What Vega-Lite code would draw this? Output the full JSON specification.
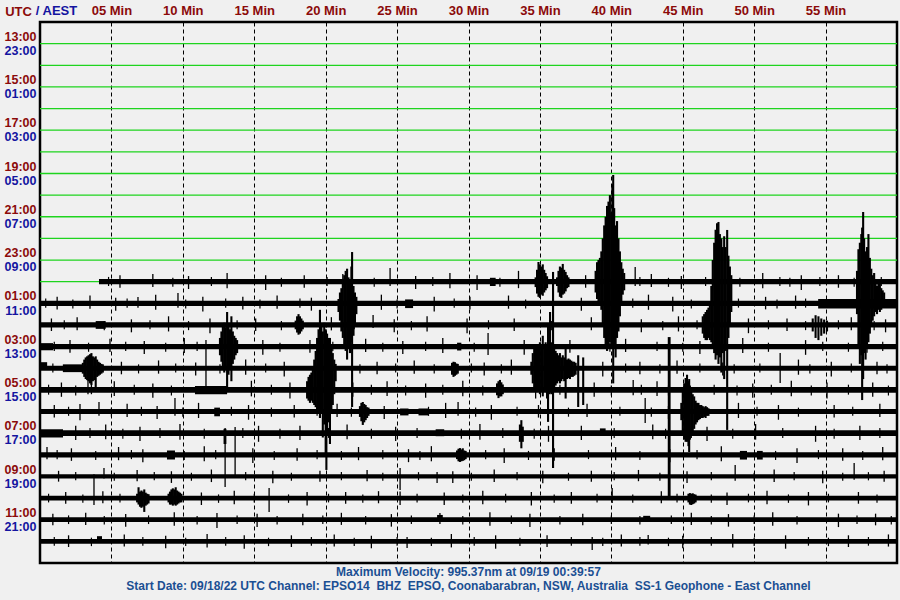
{
"$schema":"https://vega.github.io/schema/vega-lite/v6.json",
"width":857,"height":541,
"autosize":{"type":"none"},
"padding":{"left":40,"top":22,"right":3,"bottom":37},
"background":"#f0f0f0",
"config":{"view":{"stroke":"#000000","strokeWidth":2.5,"fill":"#f0f0f0"},"font":"Liberation Sans"},
"title":{"text":["Maximum Velocity: 995.37nm at 09/19 00:39:57","Start Date: 09/18/22 UTC Channel: EPSO14\u00a0 BHZ\u00a0 EPSO, Coonabarabran, NSW, Australia\u00a0 SS-1 Geophone - East Channel"],"orient":"bottom","anchor":"middle","fontSize":12,"fontWeight":"bold","color":"#1b4f93","offset":4,"lineHeight":14},
"datasets":{
"gr":[{"t":0,"t2":60,"a":1},{"t":0,"t2":60,"a":2},{"t":0,"t2":60,"a":3},{"t":0,"t2":60,"a":4},{"t":0,"t2":60,"a":5},{"t":0,"t2":60,"a":6},{"t":0,"t2":60,"a":7},{"t":0,"t2":60,"a":8},{"t":0,"t2":60,"a":9},{"t":0,"t2":60,"a":10},{"t":0,"t2":60,"a":11},{"t":0,"t2":4.13,"a":12}],
"bd":[{"t":4.13,"t2":60,"a":11.88,"b":12.12},{"t":0,"t2":60,"a":12.88,"b":13.12},{"t":0,"t2":60,"a":13.88,"b":14.12},{"t":0,"t2":60,"a":14.88,"b":15.12},{"t":0,"t2":60,"a":15.88,"b":16.12},{"t":0,"t2":60,"a":16.87,"b":17.13},{"t":0,"t2":60,"a":17.88,"b":18.12},{"t":0,"t2":60,"a":18.87,"b":19.13},{"t":0,"t2":60,"a":19.88,"b":20.12},{"t":0,"t2":60,"a":20.9,"b":21.1},{"t":0,"t2":60,"a":21.89,"b":22.11},{"t":0,"t2":60,"a":22.89,"b":23.11},{"t":0,"t2":60,"a":23.89,"b":24.11}],
"bl":[
{"t":54.48,"t2":60,"a":12.8,"b":13.24},{"t":31.5,"t2":31.9,"a":11.82,"b":12.2},
{"t":25.56,"t2":26.12,"a":12.82,"b":13.22},
{"t":3.9,"t2":4.6,"a":13.82,"b":14.18},
{"t":0,"t2":0.91,"a":14.84,"b":15.17},{"t":29.2,"t2":29.5,"a":14.82,"b":15.18},
{"t":0,"t2":0.5,"a":15.72,"b":16.04},{"t":1.6,"t2":3.0,"a":15.82,"b":16.18},
{"t":10.85,"t2":13.1,"a":16.82,"b":17.2},{"t":43.95,"t2":44.15,"a":14.56,"b":21.95},
{"t":12.2,"t2":12.6,"a":17.82,"b":18.22},{"t":25.21,"t2":25.8,"a":17.86,"b":18.18},{"t":26.5,"t2":27.2,"a":17.86,"b":18.18},
{"t":0,"t2":1.61,"a":18.82,"b":19.2},{"t":12.85,"t2":13.05,"a":18.8,"b":19.5},{"t":27.7,"t2":28.3,"a":18.82,"b":19.14},{"t":39.2,"t2":39.6,"a":18.78,"b":19.04},
{"t":8.89,"t2":9.45,"a":19.8,"b":20.22},{"t":49.0,"t2":49.5,"a":19.82,"b":20.22},{"t":50.2,"t2":50.6,"a":19.82,"b":20.22},
{"t":42.23,"t2":42.72,"a":22.82,"b":23.1},{"t":27.8,"t2":28.2,"a":22.78,"b":23.1},
{"t":3.99,"t2":4.34,"a":23.76,"b":24.04}],
"ev":[
{"t":34.7,"a":11.8,"b":12.25},{"t":34.8,"a":11.45,"b":12.55},{"t":34.9,"a":11.09,"b":12.7},{"t":35.0,"a":11.2,"b":12.75},{"t":35.1,"a":11.3,"b":12.6},{"t":35.2,"a":11.2,"b":12.65},{"t":35.3,"a":11.45,"b":12.5},{"t":35.4,"a":11.6,"b":12.4},{"t":35.5,"a":11.75,"b":12.3},
{"t":36.2,"a":11.8,"b":12.2},{"t":36.3,"a":11.5,"b":12.5},{"t":36.4,"a":11.3,"b":12.7},{"t":36.5,"a":11.35,"b":12.75},{"t":36.6,"a":11.18,"b":12.6},{"t":36.7,"a":11.45,"b":12.55},{"t":36.8,"a":11.55,"b":12.45},{"t":36.9,"a":11.7,"b":12.3},{"t":37.0,"a":11.8,"b":12.25},
{"t":38.9,"a":11.5,"b":12.5},{"t":39.0,"a":11.1,"b":12.8},{"t":39.1,"a":11.0,"b":12.9},{"t":39.2,"a":10.9,"b":13.0},{"t":39.3,"a":10.6,"b":13.3},{"t":39.4,"a":10.0,"b":14.0},{"t":39.5,"a":9.4,"b":14.6},{"t":39.6,"a":9.0,"b":15.0},{"t":39.7,"a":8.5,"b":15.2},{"t":39.8,"a":8.3,"b":15.0},{"t":39.9,"a":8.0,"b":14.8},{"t":40.0,"a":8.8,"b":15.1},{"t":40.07,"a":7.5,"b":15.0},{"t":40.13,"a":7.07,"b":16.7},{"t":40.2,"a":8.6,"b":14.9},{"t":40.3,"a":9.4,"b":15.5},{"t":40.4,"a":9.2,"b":14.6},{"t":40.5,"a":10.0,"b":14.3},{"t":40.6,"a":10.6,"b":13.6},{"t":40.7,"a":11.1,"b":13.0},{"t":40.8,"a":11.4,"b":12.6},{"t":40.9,"a":11.6,"b":12.4},
{"t":46.4,"a":13.6,"b":14.4},{"t":46.5,"a":13.5,"b":14.6},{"t":46.6,"a":13.4,"b":14.7},{"t":46.7,"a":13.3,"b":14.7},{"t":46.8,"a":13.2,"b":14.6},{"t":46.9,"a":13.0,"b":14.7},{"t":47.0,"a":12.2,"b":14.8},{"t":47.1,"a":11.0,"b":15.0},{"t":47.2,"a":10.2,"b":15.3},{"t":47.3,"a":9.6,"b":15.6},{"t":47.4,"a":9.3,"b":15.4},{"t":47.5,"a":9.24,"b":15.8},{"t":47.6,"a":9.8,"b":15.5},{"t":47.7,"a":10.0,"b":16.2},{"t":47.8,"a":10.4,"b":15.3},{"t":47.9,"a":9.9,"b":16.5},{"t":48.0,"a":10.4,"b":15.2},{"t":48.11,"a":9.61,"b":18.85},{"t":48.2,"a":10.8,"b":14.6},{"t":48.3,"a":11.3,"b":14.0},{"t":48.4,"a":11.7,"b":13.4},
{"t":57.2,"a":11.5,"b":13.5},{"t":57.3,"a":10.5,"b":15.0},{"t":57.4,"a":10.2,"b":15.8},{"t":57.5,"a":9.8,"b":15.4},{"t":57.56,"a":9.5,"b":17.47},{"t":57.63,"a":8.78,"b":16.5},{"t":57.7,"a":10.0,"b":15.3},{"t":57.8,"a":10.6,"b":15.6},{"t":57.9,"a":10.4,"b":15.0},{"t":58.0,"a":9.8,"b":14.8},{"t":58.1,"a":10.9,"b":14.4},{"t":58.2,"a":11.4,"b":14.0},{"t":58.3,"a":11.7,"b":13.8},{"t":58.4,"a":11.6,"b":13.6},{"t":58.5,"a":12.0,"b":13.4},{"t":58.6,"a":12.2,"b":13.5},{"t":58.7,"a":12.1,"b":13.3},{"t":58.8,"a":12.0,"b":13.4},{"t":58.9,"a":12.3,"b":13.3},{"t":59.0,"a":12.4,"b":13.2},{"t":59.1,"a":12.5,"b":13.2},
{"t":54.1,"a":13.7,"b":14.3},{"t":54.3,"a":13.55,"b":14.6},{"t":54.5,"a":13.6,"b":14.7},{"t":54.7,"a":13.7,"b":14.5},{"t":54.9,"a":13.75,"b":14.4},{"t":55.1,"a":13.8,"b":14.3},
{"t":20.9,"a":12.8,"b":13.4},{"t":21.0,"a":12.5,"b":13.8},{"t":21.1,"a":12.3,"b":14.3},{"t":21.2,"a":12.0,"b":14.6},{"t":21.3,"a":11.7,"b":14.9},{"t":21.4,"a":11.5,"b":15.2},{"t":21.5,"a":11.4,"b":15.6},{"t":21.6,"a":11.8,"b":15.0},{"t":21.7,"a":11.9,"b":15.3},{"t":21.8,"a":11.3,"b":14.8},{"t":21.85,"a":10.63,"b":17.79},{"t":21.95,"a":12.2,"b":14.5},{"t":22.05,"a":12.5,"b":14.0},{"t":22.15,"a":12.7,"b":13.5},
{"t":12.6,"a":14.6,"b":15.4},{"t":12.7,"a":14.3,"b":15.7},{"t":12.8,"a":14.0,"b":16.0},{"t":12.9,"a":13.9,"b":16.2},{"t":13.0,"a":14.1,"b":15.9},{"t":13.1,"a":13.4,"b":16.87},{"t":13.2,"a":14.0,"b":16.3},{"t":13.3,"a":14.2,"b":15.9},{"t":13.4,"a":13.6,"b":16.6},{"t":13.5,"a":14.3,"b":15.8},{"t":13.6,"a":14.5,"b":15.6},{"t":13.7,"a":14.6,"b":15.4},{"t":13.8,"a":14.7,"b":15.3},
{"t":3.0,"a":15.75,"b":16.25},{"t":3.1,"a":15.6,"b":16.4},{"t":3.2,"a":15.5,"b":16.5},{"t":3.3,"a":15.45,"b":16.55},{"t":3.4,"a":15.4,"b":16.6},{"t":3.5,"a":15.35,"b":16.7},{"t":3.6,"a":15.3,"b":16.77},{"t":3.7,"a":15.45,"b":16.6},{"t":3.8,"a":15.5,"b":16.55},{"t":3.9,"a":15.45,"b":16.9},{"t":4.0,"a":15.6,"b":16.4},{"t":4.1,"a":15.7,"b":16.35},{"t":4.2,"a":15.75,"b":16.3},{"t":4.3,"a":15.8,"b":16.25},{"t":4.4,"a":15.82,"b":16.2},
{"t":18.7,"a":16.6,"b":17.4},{"t":18.8,"a":16.4,"b":17.5},{"t":18.9,"a":16.3,"b":17.6},{"t":19.0,"a":16.2,"b":17.5},{"t":19.1,"a":16.0,"b":17.6},{"t":19.2,"a":15.6,"b":17.7},{"t":19.3,"a":15.2,"b":17.8},{"t":19.4,"a":14.6,"b":17.9},{"t":19.5,"a":14.2,"b":18.0},{"t":19.6,"a":13.3,"b":18.3},{"t":19.7,"a":14.0,"b":18.1},{"t":19.8,"a":14.3,"b":19.2},{"t":19.9,"a":13.9,"b":18.6},{"t":20.0,"a":14.2,"b":20.0},{"t":20.05,"a":14.6,"b":20.7},{"t":20.1,"a":14.4,"b":19.0},{"t":20.2,"a":14.6,"b":18.5},{"t":20.3,"a":14.6,"b":19.5},{"t":20.4,"a":15.0,"b":18.0},{"t":20.5,"a":15.3,"b":17.7},{"t":20.6,"a":15.6,"b":17.2},{"t":20.7,"a":15.8,"b":16.6},
{"t":34.4,"a":15.7,"b":16.3},{"t":34.5,"a":15.3,"b":16.7},{"t":34.6,"a":15.1,"b":16.9},{"t":34.7,"a":15.0,"b":17.0},{"t":34.8,"a":14.9,"b":17.1},{"t":34.9,"a":15.1,"b":16.9},{"t":35.0,"a":14.8,"b":17.2},{"t":35.1,"a":15.0,"b":17.0},{"t":35.2,"a":14.5,"b":17.3},{"t":35.3,"a":15.0,"b":16.9},{"t":35.4,"a":14.8,"b":17.1},{"t":35.5,"a":15.0,"b":17.4},{"t":35.57,"a":14.0,"b":18.48},{"t":35.65,"a":14.6,"b":17.2},{"t":35.71,"a":13.4,"b":17.0},{"t":35.8,"a":14.8,"b":17.2},{"t":35.92,"a":11.55,"b":20.61},{"t":36.0,"a":15.1,"b":16.9},{"t":36.1,"a":15.2,"b":16.8},{"t":36.2,"a":15.3,"b":16.7},{"t":36.3,"a":15.4,"b":16.6},{"t":36.4,"a":15.3,"b":16.7},{"t":36.5,"a":15.5,"b":16.6},{"t":36.6,"a":15.4,"b":16.5},{"t":36.7,"a":15.5,"b":16.6},{"t":36.8,"a":15.0,"b":17.4},{"t":36.9,"a":15.6,"b":16.5},{"t":37.0,"a":15.55,"b":16.45},{"t":37.1,"a":15.6,"b":16.5},{"t":37.2,"a":15.65,"b":16.4},{"t":37.3,"a":15.7,"b":16.4},{"t":37.4,"a":15.7,"b":16.35},{"t":37.5,"a":15.75,"b":16.3},{"t":37.68,"a":15.4,"b":17.79},{"t":38.03,"a":15.5,"b":17.7},
{"t":44.9,"a":17.6,"b":18.4},{"t":45.0,"a":17.0,"b":19.0},{"t":45.1,"a":16.7,"b":19.3},{"t":45.2,"a":16.45,"b":19.4},{"t":45.3,"a":16.3,"b":19.4},{"t":45.4,"a":16.6,"b":19.6},{"t":45.45,"a":16.5,"b":19.87},{"t":45.5,"a":16.8,"b":19.3},{"t":45.6,"a":17.0,"b":19.1},{"t":45.7,"a":17.2,"b":18.9},{"t":45.8,"a":17.3,"b":18.8},{"t":45.9,"a":17.5,"b":18.6},{"t":46.0,"a":17.6,"b":18.5},{"t":46.1,"a":17.6,"b":18.4},{"t":46.2,"a":17.7,"b":18.35},{"t":46.3,"a":17.7,"b":18.3},{"t":46.4,"a":17.75,"b":18.3},{"t":46.5,"a":17.8,"b":18.25},{"t":46.6,"a":17.75,"b":18.3},{"t":46.7,"a":17.8,"b":18.2},{"t":46.8,"a":17.85,"b":18.2},
{"t":17.9,"a":13.8,"b":14.2},{"t":18.0,"a":13.6,"b":14.35},{"t":18.1,"a":13.5,"b":14.45},{"t":18.2,"a":13.6,"b":14.4},{"t":18.3,"a":13.7,"b":14.3},{"t":18.4,"a":13.8,"b":14.2},
{"t":6.8,"a":21.8,"b":22.2},{"t":6.9,"a":21.5,"b":22.3},{"t":7.0,"a":21.7,"b":22.4},{"t":7.1,"a":21.65,"b":22.45},{"t":7.2,"a":21.7,"b":22.4},{"t":7.3,"a":21.6,"b":22.64},{"t":7.4,"a":21.75,"b":22.35},{"t":7.5,"a":21.8,"b":22.3},{"t":7.6,"a":21.82,"b":22.25},
{"t":9.0,"a":21.8,"b":22.2},{"t":9.1,"a":21.7,"b":22.3},{"t":9.2,"a":21.6,"b":22.3},{"t":9.3,"a":21.55,"b":22.35},{"t":9.4,"a":21.6,"b":22.3},{"t":9.5,"a":21.5,"b":22.35},{"t":9.6,"a":21.65,"b":22.3},{"t":9.7,"a":21.7,"b":22.25},{"t":9.8,"a":21.75,"b":22.2},{"t":9.9,"a":21.8,"b":22.2},
{"t":22.4,"a":17.75,"b":18.25},{"t":22.5,"a":17.6,"b":18.45},{"t":22.6,"a":17.56,"b":18.62},{"t":22.7,"a":17.65,"b":18.5},{"t":22.8,"a":17.7,"b":18.4},{"t":22.9,"a":17.8,"b":18.3},{"t":23.0,"a":17.82,"b":18.2},
{"t":29.2,"a":19.8,"b":20.2},{"t":29.3,"a":19.72,"b":20.3},{"t":29.4,"a":19.69,"b":20.33},{"t":29.5,"a":19.75,"b":20.3},{"t":29.6,"a":19.7,"b":20.28},{"t":29.7,"a":19.8,"b":20.25},{"t":29.8,"a":19.82,"b":20.2},
{"t":45.4,"a":21.8,"b":22.2},{"t":45.5,"a":21.77,"b":22.3},{"t":45.6,"a":21.8,"b":22.32},{"t":45.7,"a":21.78,"b":22.28},{"t":45.8,"a":21.82,"b":22.25},{"t":45.9,"a":21.84,"b":22.2},
{"t":32.0,"a":16.7,"b":17.25},{"t":32.1,"a":16.6,"b":17.38},{"t":32.2,"a":16.54,"b":17.3},{"t":32.3,"a":16.65,"b":17.3},{"t":32.4,"a":16.75,"b":17.2},
{"t":28.85,"a":15.75,"b":16.3},{"t":28.95,"a":15.7,"b":16.4},{"t":29.05,"a":15.72,"b":16.35},{"t":29.15,"a":15.78,"b":16.3},{"t":29.25,"a":15.8,"b":16.25},
{"t":33.6,"a":18.6,"b":19.4},{"t":33.7,"a":18.4,"b":19.7},{"t":33.8,"a":18.7,"b":19.4}
],
"sp":[
{"t":24.51,"a":11.37,"b":12.2},{"t":41.67,"a":11.32,"b":12.2},{"t":33.5,"a":11.5,"b":12.3},
{"t":6.86,"a":12.71,"b":13.2},{"t":9.66,"a":12.52,"b":13.2},{"t":23.32,"a":13.54,"b":14.14},
{"t":11.62,"a":14.7,"b":16.87},{"t":31.37,"a":14.37,"b":15.39},{"t":51.82,"a":15.3,"b":16.68},
{"t":3.36,"a":16.54,"b":17.2},{"t":3.6,"a":16.6,"b":17.2},{"t":41.53,"a":16.54,"b":17.25},
{"t":2.8,"a":17.65,"b":18.4},{"t":4.13,"a":17.56,"b":18.2},{"t":9.45,"a":17.38,"b":18.2},{"t":29.27,"a":17.56,"b":18.2},{"t":42.37,"a":17.38,"b":18.53},
{"t":12.96,"a":18.76,"b":21.49},{"t":13.66,"a":18.71,"b":20.93},{"t":0.49,"a":19.64,"b":20.2},
{"t":3.78,"a":20.9,"b":22.32},{"t":4.48,"a":20.61,"b":21.1},{"t":25.21,"a":20.61,"b":21.63},{"t":27.8,"a":20.8,"b":21.3},{"t":48.67,"a":20.47,"b":21.2},{"t":57.0,"a":20.38,"b":21.15},
{"t":16.04,"a":21.53,"b":22.64},{"t":25.21,"a":21.7,"b":22.32},{"t":40.06,"a":21.53,"b":22.23},
{"t":12.39,"a":22.69,"b":23.38},{"t":28.0,"a":22.69,"b":23.2},
{"t":25.7,"a":23.8,"b":24.31},{"t":38.66,"a":23.8,"b":24.4},{"t":42.58,"a":23.71,"b":24.15},
{"t":5.6,"a":11.7,"b":12.28},{"t":7.9,"a":11.64,"b":12.25},{"t":10.4,"a":11.74,"b":12.34},{"t":13.1,"a":11.6,"b":12.3},{"t":15.8,"a":11.7,"b":12.38},{"t":18.5,"a":11.7,"b":12.28},{"t":21.2,"a":11.64,"b":12.25},{"t":26.3,"a":11.74,"b":12.34},{"t":28.7,"a":11.6,"b":12.3},{"t":30.6,"a":11.7,"b":12.38},{"t":38.2,"a":11.7,"b":12.28},{"t":42.8,"a":11.64,"b":12.25},{"t":44.9,"a":11.74,"b":12.34},{"t":50.6,"a":11.6,"b":12.3},{"t":53.3,"a":11.7,"b":12.38},{"t":55.9,"a":11.7,"b":12.28},
{"t":1.2,"a":12.7,"b":13.28},{"t":3.5,"a":12.64,"b":13.25},{"t":5.3,"a":12.74,"b":13.34},{"t":8.1,"a":12.6,"b":13.3},{"t":11.4,"a":12.7,"b":13.38},{"t":14.2,"a":12.7,"b":13.28},{"t":16.6,"a":12.64,"b":13.25},{"t":19.0,"a":12.74,"b":13.34},{"t":23.9,"a":12.6,"b":13.3},{"t":27.6,"a":12.7,"b":13.38},{"t":30.1,"a":12.7,"b":13.28},{"t":32.8,"a":12.64,"b":13.25},{"t":37.9,"a":12.74,"b":13.34},{"t":42.6,"a":12.6,"b":13.3},{"t":44.3,"a":12.7,"b":13.38},{"t":50.8,"a":12.7,"b":13.28},{"t":52.9,"a":12.64,"b":13.25},
{"t":0.8,"a":13.7,"b":14.28},{"t":2.6,"a":13.64,"b":14.25},{"t":6.4,"a":13.74,"b":14.34},{"t":9.0,"a":13.6,"b":14.3},{"t":11.9,"a":13.7,"b":14.38},{"t":15.1,"a":13.7,"b":14.28},{"t":20.4,"a":13.64,"b":14.25},{"t":24.8,"a":13.74,"b":14.34},{"t":27.1,"a":13.6,"b":14.3},{"t":29.9,"a":13.7,"b":14.38},{"t":33.2,"a":13.7,"b":14.28},{"t":38.6,"a":13.64,"b":14.25},{"t":42.1,"a":13.74,"b":14.34},{"t":44.7,"a":13.6,"b":14.3},{"t":49.6,"a":13.7,"b":14.38},{"t":52.3,"a":13.7,"b":14.28},{"t":56.8,"a":13.64,"b":14.25},{"t":59.2,"a":13.74,"b":14.34},
{"t":2.1,"a":14.7,"b":15.28},{"t":4.9,"a":14.64,"b":15.25},{"t":7.3,"a":14.74,"b":15.34},{"t":10.1,"a":14.6,"b":15.3},{"t":15.6,"a":14.7,"b":15.38},{"t":18.9,"a":14.7,"b":15.28},{"t":22.8,"a":14.64,"b":15.25},{"t":25.4,"a":14.74,"b":15.34},{"t":28.2,"a":14.6,"b":15.3},{"t":33.9,"a":14.7,"b":15.38},{"t":37.1,"a":14.7,"b":15.28},{"t":41.0,"a":14.64,"b":15.25},{"t":46.2,"a":14.74,"b":15.34},{"t":49.2,"a":14.6,"b":15.3},{"t":53.6,"a":14.7,"b":15.38},{"t":57.9,"a":14.7,"b":15.28},
{"t":5.7,"a":15.7,"b":16.28},{"t":8.3,"a":15.64,"b":16.25},{"t":10.9,"a":15.74,"b":16.34},{"t":14.4,"a":15.6,"b":16.3},{"t":17.1,"a":15.7,"b":16.38},{"t":23.6,"a":15.7,"b":16.28},{"t":26.2,"a":15.64,"b":16.25},{"t":31.1,"a":15.74,"b":16.34},{"t":33.0,"a":15.6,"b":16.3},{"t":39.4,"a":15.7,"b":16.38},{"t":42.0,"a":15.7,"b":16.28},{"t":44.6,"a":15.64,"b":16.25},{"t":47.8,"a":15.74,"b":16.34},{"t":53.1,"a":15.6,"b":16.3},{"t":55.4,"a":15.7,"b":16.38},{"t":58.6,"a":15.7,"b":16.28},
{"t":1.5,"a":16.66,"b":17.32},{"t":5.2,"a":16.6,"b":17.28},{"t":7.9,"a":16.7,"b":17.36},{"t":14.8,"a":16.58,"b":17.3},{"t":17.5,"a":16.66,"b":17.4},{"t":21.9,"a":16.66,"b":17.32},{"t":24.3,"a":16.6,"b":17.28},{"t":27.0,"a":16.7,"b":17.36},{"t":29.6,"a":16.58,"b":17.3},{"t":34.7,"a":16.66,"b":17.4},{"t":38.8,"a":16.66,"b":17.32},{"t":43.2,"a":16.6,"b":17.28},{"t":49.9,"a":16.7,"b":17.36},{"t":52.6,"a":16.58,"b":17.3},{"t":55.1,"a":16.66,"b":17.4},{"t":58.3,"a":16.66,"b":17.32},
{"t":1.0,"a":17.7,"b":18.28},{"t":6.1,"a":17.64,"b":18.25},{"t":8.2,"a":17.74,"b":18.34},{"t":11.1,"a":17.6,"b":18.3},{"t":14.6,"a":17.7,"b":18.38},{"t":17.8,"a":17.7,"b":18.28},{"t":20.8,"a":17.64,"b":18.25},{"t":24.1,"a":17.74,"b":18.34},{"t":28.4,"a":17.6,"b":18.3},{"t":31.6,"a":17.7,"b":18.38},{"t":34.9,"a":17.7,"b":18.28},{"t":38.3,"a":17.64,"b":18.25},{"t":44.0,"a":17.74,"b":18.34},{"t":48.9,"a":17.6,"b":18.3},{"t":51.7,"a":17.7,"b":18.38},{"t":55.6,"a":17.7,"b":18.28},{"t":58.8,"a":17.64,"b":18.25},
{"t":2.5,"a":18.66,"b":19.32},{"t":4.6,"a":18.6,"b":19.28},{"t":7.0,"a":18.7,"b":19.36},{"t":9.8,"a":18.58,"b":19.3},{"t":15.3,"a":18.66,"b":19.4},{"t":18.2,"a":18.66,"b":19.32},{"t":21.5,"a":18.6,"b":19.28},{"t":24.9,"a":18.7,"b":19.36},{"t":30.8,"a":18.58,"b":19.3},{"t":35.6,"a":18.66,"b":19.4},{"t":37.9,"a":18.66,"b":19.32},{"t":42.9,"a":18.6,"b":19.28},{"t":46.7,"a":18.7,"b":19.36},{"t":50.1,"a":18.58,"b":19.3},{"t":54.3,"a":18.66,"b":19.4},{"t":57.4,"a":18.66,"b":19.32},
{"t":2.2,"a":19.7,"b":20.28},{"t":5.5,"a":19.64,"b":20.25},{"t":7.2,"a":19.74,"b":20.34},{"t":11.5,"a":19.6,"b":20.3},{"t":14.9,"a":19.7,"b":20.38},{"t":18.0,"a":19.7,"b":20.28},{"t":22.3,"a":19.64,"b":20.25},{"t":25.8,"a":19.74,"b":20.34},{"t":27.4,"a":19.6,"b":20.3},{"t":32.5,"a":19.7,"b":20.38},{"t":36.0,"a":19.7,"b":20.28},{"t":40.3,"a":19.64,"b":20.25},{"t":44.1,"a":19.74,"b":20.34},{"t":47.7,"a":19.6,"b":20.3},{"t":53.0,"a":19.7,"b":20.38},{"t":56.2,"a":19.7,"b":20.28},{"t":59.0,"a":19.64,"b":20.25},
{"t":1.3,"a":20.74,"b":21.24},{"t":6.8,"a":20.7,"b":21.22},{"t":9.2,"a":20.76,"b":21.3},{"t":12.0,"a":20.68,"b":21.26},{"t":16.3,"a":20.74,"b":21.32},{"t":19.6,"a":20.74,"b":21.24},{"t":22.9,"a":20.7,"b":21.22},{"t":28.9,"a":20.76,"b":21.3},{"t":31.8,"a":20.68,"b":21.26},{"t":35.2,"a":20.74,"b":21.32},{"t":38.6,"a":20.74,"b":21.24},{"t":41.9,"a":20.7,"b":21.22},{"t":45.3,"a":20.76,"b":21.3},{"t":51.4,"a":20.68,"b":21.26},{"t":54.8,"a":20.74,"b":21.32},{"t":59.1,"a":20.74,"b":21.24},
{"t":1.8,"a":21.72,"b":22.26},{"t":4.4,"a":21.68,"b":22.24},{"t":11.3,"a":21.74,"b":22.32},{"t":13.6,"a":21.66,"b":22.28},{"t":18.7,"a":21.72,"b":22.34},{"t":21.4,"a":21.72,"b":22.26},{"t":23.7,"a":21.68,"b":22.24},{"t":28.3,"a":21.74,"b":22.32},{"t":31.0,"a":21.66,"b":22.28},{"t":34.4,"a":21.72,"b":22.34},{"t":37.2,"a":21.72,"b":22.26},{"t":43.5,"a":21.68,"b":22.24},{"t":48.1,"a":21.74,"b":22.32},{"t":50.9,"a":21.66,"b":22.28},{"t":53.8,"a":21.72,"b":22.34},{"t":57.3,"a":21.72,"b":22.26},
{"t":0.9,"a":22.72,"b":23.26},{"t":3.2,"a":22.68,"b":23.24},{"t":6.0,"a":22.74,"b":23.32},{"t":9.4,"a":22.66,"b":23.28},{"t":15.2,"a":22.72,"b":23.34},{"t":18.4,"a":22.72,"b":23.26},{"t":21.1,"a":22.68,"b":23.24},{"t":24.6,"a":22.74,"b":23.32},{"t":31.5,"a":22.66,"b":23.28},{"t":34.3,"a":22.72,"b":23.34},{"t":38.0,"a":22.72,"b":23.26},{"t":45.6,"a":22.68,"b":23.24},{"t":48.2,"a":22.74,"b":23.32},{"t":51.3,"a":22.66,"b":23.28},{"t":55.9,"a":22.72,"b":23.34},{"t":58.5,"a":22.72,"b":23.26},
{"t":2.0,"a":23.72,"b":24.26},{"t":5.9,"a":23.68,"b":24.24},{"t":8.8,"a":23.74,"b":24.32},{"t":11.7,"a":23.66,"b":24.28},{"t":14.3,"a":23.72,"b":24.34},{"t":17.6,"a":23.72,"b":24.26},{"t":20.6,"a":23.68,"b":24.24},{"t":23.2,"a":23.74,"b":24.32},{"t":28.8,"a":23.66,"b":24.28},{"t":31.9,"a":23.72,"b":24.34},{"t":35.5,"a":23.72,"b":24.26},{"t":40.7,"a":23.68,"b":24.24},{"t":45.0,"a":23.74,"b":24.32},{"t":48.5,"a":23.66,"b":24.28},{"t":52.2,"a":23.72,"b":24.34},{"t":56.6,"a":23.72,"b":24.26},{"t":59.4,"a":23.68,"b":24.24}
],
"sn":[
{"t":4.8,"a":11.78,"b":12.2},{"t":9.3,"a":11.82,"b":12.24},{"t":12.0,"a":11.78,"b":12.2},{"t":16.9,"a":11.82,"b":12.24},{"t":20.1,"a":11.78,"b":12.2},{"t":23.4,"a":11.82,"b":12.24},{"t":27.5,"a":11.78,"b":12.2},{"t":32.2,"a":11.82,"b":12.24},{"t":42.0,"a":11.78,"b":12.2},{"t":44.0,"a":11.82,"b":12.24},{"t":46.6,"a":11.78,"b":12.2},{"t":49.0,"a":11.82,"b":12.24},{"t":51.8,"a":11.78,"b":12.2},{"t":52.5,"a":11.82,"b":12.24},{"t":54.6,"a":11.78,"b":12.2},{"t":57.0,"a":11.82,"b":12.24},{"t":58.9,"a":11.78,"b":12.2},
{"t":0.4,"a":12.78,"b":13.2},{"t":2.3,"a":12.82,"b":13.24},{"t":6.1,"a":12.78,"b":13.2},{"t":10.2,"a":12.82,"b":13.24},{"t":13.0,"a":12.78,"b":13.2},{"t":15.4,"a":12.82,"b":13.24},{"t":18.2,"a":12.78,"b":13.2},{"t":25.0,"a":12.82,"b":13.24},{"t":29.0,"a":12.78,"b":13.2},{"t":34.0,"a":12.82,"b":13.24},{"t":41.5,"a":12.78,"b":13.2},{"t":45.6,"a":12.82,"b":13.24},{"t":48.9,"a":12.78,"b":13.2},{"t":51.6,"a":12.82,"b":13.24},{"t":53.6,"a":12.78,"b":13.2},
{"t":1.7,"a":13.78,"b":14.2},{"t":4.5,"a":13.82,"b":14.24},{"t":7.7,"a":13.78,"b":14.2},{"t":10.4,"a":13.82,"b":14.24},{"t":13.8,"a":13.78,"b":14.2},{"t":16.9,"a":13.82,"b":14.24},{"t":22.0,"a":13.78,"b":14.2},{"t":26.0,"a":13.82,"b":14.24},{"t":31.4,"a":13.78,"b":14.2},{"t":35.8,"a":13.82,"b":14.24},{"t":40.4,"a":13.78,"b":14.2},{"t":43.6,"a":13.82,"b":14.24},{"t":46.0,"a":13.78,"b":14.2},{"t":48.0,"a":13.82,"b":14.24},{"t":51.0,"a":13.78,"b":14.2},{"t":53.6,"a":13.82,"b":14.24},{"t":55.9,"a":13.78,"b":14.2},{"t":58.4,"a":13.82,"b":14.24},
{"t":1.0,"a":14.78,"b":15.2},{"t":3.4,"a":14.82,"b":15.24},{"t":6.0,"a":14.78,"b":15.2},{"t":8.8,"a":14.82,"b":15.24},{"t":11.0,"a":14.78,"b":15.2},{"t":16.8,"a":14.82,"b":15.24},{"t":20.5,"a":14.78,"b":15.2},{"t":24.0,"a":14.82,"b":15.24},{"t":27.0,"a":14.78,"b":15.2},{"t":30.4,"a":14.82,"b":15.24},{"t":35.7,"a":14.78,"b":15.2},{"t":39.9,"a":14.82,"b":15.24},{"t":43.2,"a":14.78,"b":15.2},{"t":45.0,"a":14.82,"b":15.24},{"t":47.6,"a":14.78,"b":15.2},{"t":51.0,"a":14.82,"b":15.24},{"t":54.8,"a":14.78,"b":15.2},{"t":56.6,"a":14.82,"b":15.24},{"t":59.0,"a":14.78,"b":15.2},
{"t":0.9,"a":15.78,"b":16.2},{"t":6.9,"a":15.82,"b":16.24},{"t":9.5,"a":15.78,"b":16.2},{"t":12.6,"a":15.82,"b":16.24},{"t":15.8,"a":15.78,"b":16.2},{"t":22.4,"a":15.82,"b":16.24},{"t":24.9,"a":15.78,"b":16.2},{"t":27.6,"a":15.82,"b":16.24},{"t":30.2,"a":15.78,"b":16.2},{"t":32.3,"a":15.82,"b":16.24},{"t":41.0,"a":15.78,"b":16.2},{"t":43.4,"a":15.82,"b":16.24},{"t":46.2,"a":15.78,"b":16.2},{"t":48.6,"a":15.82,"b":16.24},{"t":50.4,"a":15.78,"b":16.2},{"t":53.9,"a":15.82,"b":16.24},{"t":56.8,"a":15.78,"b":16.2},{"t":59.3,"a":15.82,"b":16.24},
{"t":0.6,"a":16.76,"b":17.22},{"t":2.5,"a":16.8,"b":17.26},{"t":6.6,"a":16.76,"b":17.22},{"t":9.2,"a":16.8,"b":17.26},{"t":16.2,"a":16.76,"b":17.22},{"t":20.4,"a":16.8,"b":17.26},{"t":23.2,"a":16.76,"b":17.22},{"t":25.6,"a":16.8,"b":17.26},{"t":28.2,"a":16.76,"b":17.22},{"t":31.0,"a":16.8,"b":17.26},{"t":36.4,"a":16.76,"b":17.22},{"t":40.0,"a":16.8,"b":17.26},{"t":42.1,"a":16.76,"b":17.22},{"t":44.0,"a":16.8,"b":17.26},{"t":47.2,"a":16.76,"b":17.22},{"t":48.8,"a":16.8,"b":17.26},{"t":51.2,"a":16.76,"b":17.22},{"t":54.0,"a":16.8,"b":17.26},{"t":56.6,"a":16.76,"b":17.22},{"t":59.4,"a":16.8,"b":17.26},
{"t":2.0,"a":17.78,"b":18.2},{"t":5.0,"a":17.82,"b":18.24},{"t":7.1,"a":17.78,"b":18.2},{"t":10.0,"a":17.82,"b":18.24},{"t":13.4,"a":17.78,"b":18.2},{"t":16.2,"a":17.82,"b":18.24},{"t":19.4,"a":17.78,"b":18.2},{"t":21.8,"a":17.82,"b":18.24},{"t":27.2,"a":17.78,"b":18.2},{"t":30.5,"a":17.82,"b":18.24},{"t":33.4,"a":17.78,"b":18.2},{"t":37.0,"a":17.82,"b":18.24},{"t":40.6,"a":17.78,"b":18.2},{"t":42.8,"a":17.82,"b":18.24},{"t":50.2,"a":17.78,"b":18.2},{"t":53.1,"a":17.82,"b":18.24},{"t":56.9,"a":17.78,"b":18.2},
{"t":3.5,"a":18.76,"b":19.22},{"t":5.8,"a":18.8,"b":19.26},{"t":8.4,"a":18.76,"b":19.22},{"t":11.5,"a":18.8,"b":19.26},{"t":14.2,"a":18.76,"b":19.22},{"t":16.8,"a":18.8,"b":19.26},{"t":20.2,"a":18.76,"b":19.22},{"t":23.2,"a":18.8,"b":19.26},{"t":26.4,"a":18.76,"b":19.22},{"t":29.5,"a":18.8,"b":19.26},{"t":32.4,"a":18.76,"b":19.22},{"t":34.6,"a":18.8,"b":19.26},{"t":40.2,"a":18.76,"b":19.22},{"t":43.8,"a":18.8,"b":19.26},{"t":45.6,"a":18.76,"b":19.22},{"t":48.5,"a":18.8,"b":19.26},{"t":52.0,"a":18.76,"b":19.22},{"t":55.6,"a":18.8,"b":19.26},{"t":58.8,"a":18.76,"b":19.22},
{"t":1.2,"a":19.78,"b":20.2},{"t":3.9,"a":19.82,"b":20.24},{"t":6.4,"a":19.78,"b":20.2},{"t":10.1,"a":19.82,"b":20.24},{"t":12.3,"a":19.78,"b":20.2},{"t":16.4,"a":19.82,"b":20.24},{"t":19.4,"a":19.78,"b":20.2},{"t":21.1,"a":19.82,"b":20.24},{"t":24.0,"a":19.78,"b":20.2},{"t":26.6,"a":19.82,"b":20.24},{"t":31.2,"a":19.78,"b":20.2},{"t":34.2,"a":19.82,"b":20.24},{"t":38.4,"a":19.78,"b":20.2},{"t":42.0,"a":19.82,"b":20.24},{"t":46.0,"a":19.78,"b":20.2},{"t":51.5,"a":19.82,"b":20.24},{"t":54.5,"a":19.78,"b":20.2},{"t":57.6,"a":19.82,"b":20.24},
{"t":2.5,"a":20.8,"b":21.18},{"t":5.2,"a":20.83,"b":21.2},{"t":8.0,"a":20.8,"b":21.18},{"t":10.6,"a":20.83,"b":21.2},{"t":14.4,"a":20.8,"b":21.18},{"t":17.6,"a":20.83,"b":21.2},{"t":21.1,"a":20.8,"b":21.18},{"t":24.0,"a":20.83,"b":21.2},{"t":26.5,"a":20.8,"b":21.18},{"t":30.2,"a":20.83,"b":21.2},{"t":33.4,"a":20.8,"b":21.18},{"t":37.0,"a":20.83,"b":21.2},{"t":40.2,"a":20.8,"b":21.18},{"t":43.4,"a":20.83,"b":21.2},{"t":47.0,"a":20.8,"b":21.18},{"t":50.0,"a":20.83,"b":21.2},{"t":52.8,"a":20.8,"b":21.18},{"t":56.2,"a":20.83,"b":21.2},{"t":58.0,"a":20.8,"b":21.18},
{"t":0.6,"a":21.8,"b":22.2},{"t":3.0,"a":21.83,"b":22.22},{"t":5.6,"a":21.8,"b":22.2},{"t":12.5,"a":21.83,"b":22.22},{"t":15.0,"a":21.8,"b":22.2},{"t":17.4,"a":21.83,"b":22.22},{"t":20.2,"a":21.8,"b":22.2},{"t":22.6,"a":21.83,"b":22.22},{"t":26.4,"a":21.8,"b":22.2},{"t":29.6,"a":21.83,"b":22.22},{"t":32.6,"a":21.8,"b":22.2},{"t":36.0,"a":21.83,"b":22.22},{"t":39.0,"a":21.8,"b":22.2},{"t":41.5,"a":21.83,"b":22.22},{"t":44.6,"a":21.8,"b":22.2},{"t":47.0,"a":21.83,"b":22.22},{"t":49.6,"a":21.8,"b":22.2},{"t":52.4,"a":21.83,"b":22.22},{"t":55.2,"a":21.8,"b":22.2},{"t":58.6,"a":21.83,"b":22.22},
{"t":2.0,"a":22.8,"b":23.2},{"t":4.5,"a":22.83,"b":23.22},{"t":7.6,"a":22.8,"b":23.2},{"t":11.0,"a":22.83,"b":23.22},{"t":13.8,"a":22.8,"b":23.2},{"t":16.6,"a":22.83,"b":23.22},{"t":19.8,"a":22.8,"b":23.2},{"t":22.8,"a":22.83,"b":23.22},{"t":26.0,"a":22.8,"b":23.2},{"t":29.6,"a":22.83,"b":23.22},{"t":33.0,"a":22.8,"b":23.2},{"t":36.4,"a":22.83,"b":23.22},{"t":40.0,"a":22.8,"b":23.2},{"t":42.0,"a":22.83,"b":23.22},{"t":44.2,"a":22.8,"b":23.2},{"t":47.0,"a":22.83,"b":23.22},{"t":50.0,"a":22.8,"b":23.2},{"t":53.0,"a":22.83,"b":23.22},{"t":57.2,"a":22.8,"b":23.2},{"t":59.6,"a":22.83,"b":23.22},
{"t":1.0,"a":23.8,"b":24.2},{"t":3.6,"a":23.83,"b":24.22},{"t":7.2,"a":23.8,"b":24.2},{"t":10.2,"a":23.83,"b":24.22},{"t":13.0,"a":23.8,"b":24.2},{"t":16.0,"a":23.83,"b":24.22},{"t":19.0,"a":23.8,"b":24.2},{"t":22.0,"a":23.83,"b":24.22},{"t":25.0,"a":23.8,"b":24.2},{"t":27.4,"a":23.83,"b":24.22},{"t":30.4,"a":23.8,"b":24.2},{"t":33.6,"a":23.83,"b":24.22},{"t":37.2,"a":23.8,"b":24.2},{"t":39.4,"a":23.83,"b":24.22},{"t":42.0,"a":23.8,"b":24.2},{"t":44.0,"a":23.83,"b":24.22},{"t":47.0,"a":23.8,"b":24.2},{"t":50.0,"a":23.83,"b":24.22},{"t":53.8,"a":23.8,"b":24.2},{"t":55.2,"a":23.83,"b":24.22},{"t":58.0,"a":23.8,"b":24.2}
]},
"encoding":{
"x":{"field":"t","type":"quantitative","scale":{"domain":[0,60],"nice":false,"zero":false},
 "axis":{"orient":"top","values":[1.12,5,10,15,20,25,30,35,40,45,50,55],
  "labelExpr":"datum.value < 4 ? '/ AEST' : (datum.value < 10 ? '0' : '') + datum.value + ' Min'",
  "labelColor":{"condition":{"test":"datum.value > 4","value":"#8b0a0a"},"value":"#1414a0"},
  "labelFontSize":13,"labelFontWeight":"bold","labelPadding":5,"ticks":false,"domain":false,
  "grid":true,"gridColor":"#000000","gridDash":[4,3],"gridWidth":1,
  "gridOpacity":{"condition":{"test":"datum.value < 4","value":0},"value":1},
  "title":null,"labelOverlap":false,"labelFlush":false,"labelBound":false}},
"y":{"field":"a","type":"quantitative","scale":{"domain":[0,25],"nice":false,"zero":false,"reverse":true},
 "axis":{"values":[0.66,1.31,2.66,3.31,4.66,5.31,6.66,7.31,8.66,9.31,10.66,11.31,12.66,13.31,14.66,15.31,16.66,17.31,18.66,19.31,20.66,21.31,22.66,23.31],
  "labelExpr":"format(datum.value < round(datum.value) ? (round(datum.value) + 12) % 24 : (round(datum.value) + 22) % 24, '02d') + ':00'",
  "labelColor":{"condition":{"test":"datum.value < round(datum.value)","value":"#8b0a0a"},"value":"#1414a0"},
  "labelFontSize":12.5,"labelFontWeight":"bold","labelPadding":4,"ticks":false,"domain":false,"grid":false,"labelOverlap":false,"labelBaseline":"middle",
  "title":"UTC","titleAngle":0,"titleX":-22,"titleY":-11,"titleAlign":"center","titleBaseline":"middle","titleColor":"#8b0a0a","titleFontSize":13,"titleFontWeight":"bold"}}
},
"layer":[
{"data":{"name":"gr"},"mark":{"type":"rule","color":"#1ed41e","strokeWidth":1.3},"encoding":{"x2":{"field":"t2"}}},
{"data":{"name":"bd"},"mark":{"type":"rect","color":"#000000"},"encoding":{"x2":{"field":"t2"},"y2":{"field":"b"}}},
{"data":{"name":"bl"},"mark":{"type":"rect","color":"#000000"},"encoding":{"x2":{"field":"t2"},"y2":{"field":"b"}}},
{"data":{"name":"ev"},"mark":{"type":"rule","color":"#000000","strokeWidth":2.1},"encoding":{"y2":{"field":"b"}}},
{"data":{"name":"sp"},"mark":{"type":"rule","color":"#000000","strokeWidth":1.3},"encoding":{"y2":{"field":"b"}}},
{"data":{"name":"sn"},"mark":{"type":"rule","color":"#000000","strokeWidth":1.2},"encoding":{"y2":{"field":"b"}}}
]
}
